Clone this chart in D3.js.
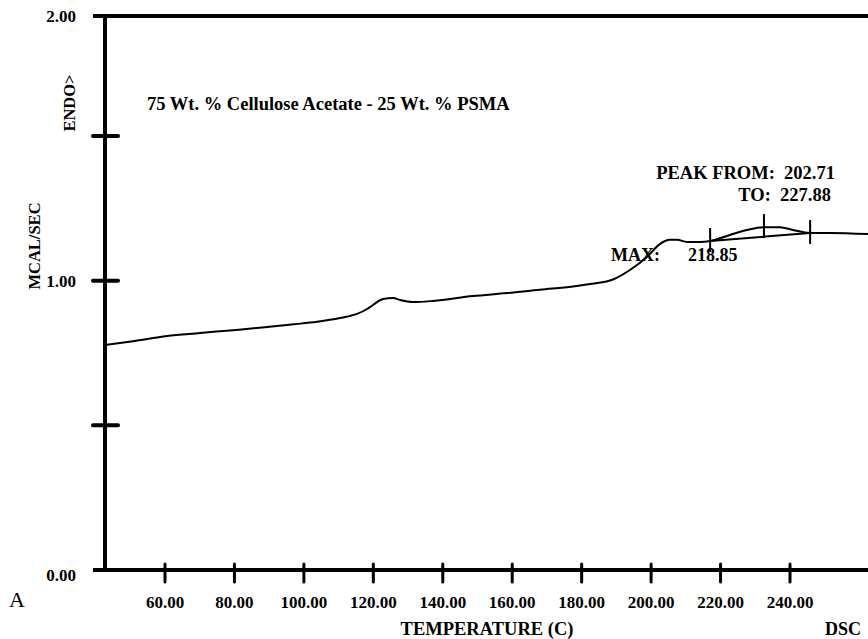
<!DOCTYPE html>
<html>
<head>
<meta charset="utf-8">
<script src="https://cdn.jsdelivr.net/npm/d3@7"></script>
<style>
  body { margin: 0; background: white; }
  svg { display: block; }
  text { white-space: pre; }
</style>
</head>
<body>
<div id="chart"></div>
<script>

// DSC trace, temperature (C) vs mcal/sec
let temps = [42.7, 50.8, 60.6, 70.1, 79.6, 88.0, 96.9, 103.8, 110.4, 115.3, 118.2, 119.9,
             122.8, 125.7, 127.7, 131.4, 137.2, 148.7, 158.5, 168.0, 177.5, 183.0,
             189.0, 193.9, 198.8, 202.6, 205.4, 207.5, 210.3, 214.1, 217.0, 222.7, 227.6,
             232.2, 237.1, 240.9, 245.8, 251.5, 262.5]
let heatFlow = [0.778, 0.791, 0.809, 0.819, 0.829, 0.838, 0.849, 0.858, 0.871, 0.885, 0.902, 0.916,
                0.937, 0.940, 0.933, 0.926, 0.930, 0.947, 0.957, 0.969, 0.980, 0.989,
                1.004, 1.037, 1.082, 1.127, 1.141, 1.141, 1.134, 1.134, 1.137, 1.158, 1.175,
                1.185, 1.185, 1.175, 1.165, 1.165, 1.161]

// peak baseline and markers
let baseTemps = [217.0, 245.8]
let baseFlow = [1.137, 1.165]
let markerTemps = [217.0, 232.5, 245.8]
let markerFlow = [1.137, 1.185, 1.165]

let xTicks = [60, 80, 100, 120, 140, 160, 180, 200, 220, 240]
let yTicks = [0.5, 1.0, 1.5]
let yLabels = [0, 1, 2]

let width = 868
let height = 639
let frameLeft = 93
let axisX = 105
let frameTop = 16
let axisY = 570
let font = "'Liberation Serif', 'Times New Roman', serif"

let svg = d3.select("#chart").append("svg")
    .attr("width", width)
    .attr("height", height)

let x = d3.scaleLinear().domain([60, 240]).range([165, 790])
let y = d3.scaleLinear().domain([0, 1.5]).range([axisY, 136])

// frame lines
svg.append("line")
    .attr("x1", frameLeft).attr("x2", width)
    .attr("y1", frameTop).attr("y2", frameTop)
    .attr("stroke", "black").attr("stroke-width", 4)
svg.append("line")
    .attr("x1", frameLeft).attr("x2", width)
    .attr("y1", axisY).attr("y2", axisY)
    .attr("stroke", "black").attr("stroke-width", 4)
svg.append("line")
    .attr("x1", axisX).attr("x2", axisX)
    .attr("y1", frameTop).attr("y2", axisY)
    .attr("stroke", "black").attr("stroke-width", 4)

// y ticks
svg.selectAll(".ytick").data(yTicks).enter().append("line")
    .attr("class", "ytick")
    .attr("x1", frameLeft).attr("x2", 118)
    .attr("y1", d => y(d)).attr("y2", d => y(d))
    .attr("stroke", "black").attr("stroke-width", 4)
    .attr("stroke-linecap", "round")

svg.selectAll(".ylab").data(yLabels).enter().append("text")
    .attr("class", "ylab")
    .text(d => d.toFixed(2))
    .attr("x", 76)
    .attr("y", d => d === 2 ? frameTop + 6 : (d === 0 ? axisY + 11 : y(d) + 6))
    .attr("text-anchor", "end")
    .attr("font-family", font)
    .attr("font-weight", "bold")
    .attr("font-size", "17px")

// x ticks
svg.selectAll(".xtick").data(xTicks).enter().append("line")
    .attr("class", "xtick")
    .attr("x1", d => x(d)).attr("x2", d => x(d))
    .attr("y1", axisY - 6).attr("y2", axisY + 12)
    .attr("stroke", "black").attr("stroke-width", 3)
    .attr("stroke-linecap", "round")

svg.selectAll(".xlab").data(xTicks).enter().append("text")
    .attr("class", "xlab")
    .text(d => d.toFixed(2))
    .attr("x", d => x(d))
    .attr("y", 608)
    .attr("text-anchor", "middle")
    .attr("font-family", font)
    .attr("font-weight", "bold")
    .attr("font-size", "17px")

// trace
let pts = temps.map((t, i) => [t, heatFlow[i]])
let line = d3.line().x(d => x(d[0])).y(d => y(d[1])).curve(d3.curveMonotoneX)

svg.append("path")
    .datum(pts)
    .attr("d", line)
    .attr("fill", "none")
    .attr("stroke", "black")
    .attr("stroke-width", 2)

svg.append("path")
    .datum(baseTemps.map((t, i) => [t, baseFlow[i]]))
    .attr("d", d3.line().x(d => x(d[0])).y(d => y(d[1])))
    .attr("fill", "none")
    .attr("stroke", "black")
    .attr("stroke-width", 2)

svg.selectAll(".marker").data(markerTemps).enter().append("line")
    .attr("class", "marker")
    .attr("x1", d => x(d)).attr("x2", d => x(d))
    .attr("y1", (d, i) => y(markerFlow[i]) - 13)
    .attr("y2", (d, i) => y(markerFlow[i]) + 11)
    .attr("stroke", "black").attr("stroke-width", 2)

// texts
let addText = function(str, tx, ty, extra = {}){
    let t = svg.append("text")
        .text(str)
        .attr("x", tx)
        .attr("y", ty)
        .attr("font-family", font)
        .attr("font-weight", extra.weight || "bold")
        .attr("font-size", (extra.size || 18) + "px")
        .attr("text-anchor", extra.anchor || "start")
    if(extra.rotate) t.attr("transform", "rotate(-90," + tx + "," + ty + ")")
    return t
}

addText("75 Wt. % Cellulose Acetate - 25 Wt. % PSMA", 147, 110, {size: 18.5})
addText("PEAK FROM:  202.71", 835, 179, {size: 18.5, anchor: "end"})
addText("TO:  227.88", 831, 201, {size: 18.5, anchor: "end"})
addText("MAX:", 611, 261, {size: 18})
addText("218.85", 688, 261, {size: 18})
addText("TEMPERATURE (C)", 487, 635, {size: 18.5, anchor: "middle"})
addText("DSC", 861, 635, {size: 18, anchor: "end"})
addText("A", 9, 607, {size: 22, weight: "normal"})
addText("MCAL/SEC", 40, 246, {size: 16.5, anchor: "middle", rotate: true})
addText("ENDO>", 75, 103, {size: 16.5, anchor: "middle", rotate: true})

</script>
</body>
</html>
